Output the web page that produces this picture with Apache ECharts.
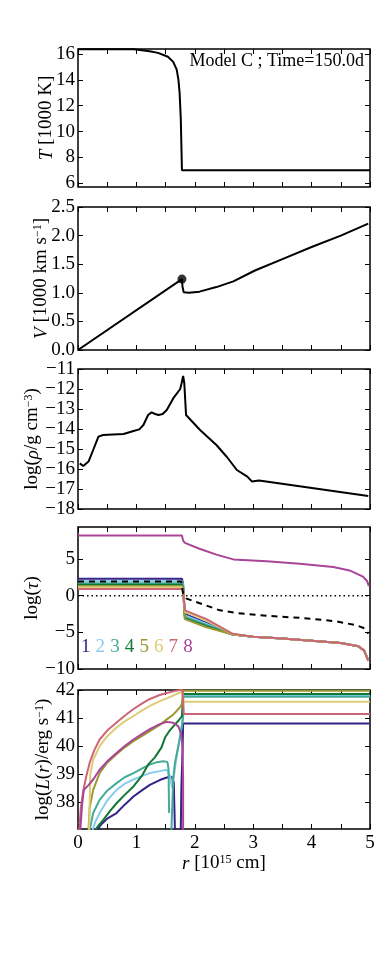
<!DOCTYPE html>
<html>
<head>
<meta charset="utf-8">
<script src="https://cdn.jsdelivr.net/npm/echarts@6.0.0/dist/echarts.min.js"></script>
<style>
  html, body { margin: 0; padding: 0; background: #fff; }
  #main { width: 390px; height: 976px; }
</style>
</head>
<body>
<div id="main"></div>
<script>
// ---- data (r in 1e15 cm) ----
const tempR = [0, 0.95, 1.1, 1.25, 1.37, 1.54, 1.63, 1.69, 1.72, 1.74, 1.76, 1.78, 5.0];
const tempT = [16.38, 16.38, 16.3, 16.2, 16.1, 15.8, 15.4, 14.8, 14.0, 13.0, 11.0, 7.0, 7.0];

const velR = [0, 1.78, 1.79, 1.81, 1.9, 2.08, 2.37, 2.66, 3.03, 3.5, 4.0, 4.5, 4.97];
const velV = [0, 1.24, 1.1, 1.01, 1.0, 1.02, 1.1, 1.2, 1.39, 1.59, 1.8, 2.0, 2.21];
const shockR = [1.78];
const shockV = [1.24];

const rhoR = [0.03, 0.09, 0.18, 0.26, 0.35, 0.43, 0.6, 0.78, 0.95, 1.05, 1.12, 1.2, 1.26, 1.32, 1.38, 1.45,
  1.52, 1.63, 1.75, 1.775, 1.8, 1.82, 1.85, 2.09, 2.37, 2.55, 2.72, 2.9, 2.98, 3.1, 4.97];
const rhoLog = [-15.72, -15.85, -15.63, -15.05, -14.38, -14.3, -14.27, -14.25, -14.1, -14.02, -13.8, -13.3,
  -13.17, -13.25, -13.3, -13.25, -13.05, -12.47, -12.0, -11.7, -11.35, -11.7, -13.3, -14.05, -14.8, -15.4,
  -16.05, -16.38, -16.63, -16.57, -17.35];

// optical depth, bands 1-7 share the radius grid
const tauR = [0, 1.78, 1.8, 1.83, 2.2, 2.65, 3.0, 3.5, 4.0, 4.5, 4.8, 4.9, 4.97];
const tau1 = [2.3, 2.3, 1.6, -2.5, -3.7, -5.3, -5.6, -5.85, -6.15, -6.45, -6.9, -7.5, -8.8];
const tau2 = [2.0, 2.0, 1.4, -2.7, -3.85, -5.3, -5.6, -5.85, -6.15, -6.45, -6.9, -7.5, -8.8];
const tau3 = [1.7, 1.7, 1.2, -2.9, -4.0, -5.3, -5.6, -5.85, -6.15, -6.45, -6.9, -7.5, -8.8];
const tau4 = [1.5, 1.5, 1.0, -3.1, -4.15, -5.3, -5.6, -5.85, -6.15, -6.45, -6.9, -7.5, -8.8];
const tau5 = [1.3, 1.3, 0.9, -3.2, -4.3, -5.3, -5.6, -5.85, -6.15, -6.45, -6.9, -7.5, -8.8];
const tau6 = [1.15, 1.15, 0.7, -2.2, -3.4, -5.25, -5.6, -5.85, -6.15, -6.45, -6.9, -7.5, -8.8];
const tau7 = [0.9, 0.9, 0.5, -2.0, -3.2, -5.2, -5.6, -5.85, -6.15, -6.45, -6.9, -7.5, -8.9];
const tau8R = [0, 1.78, 1.8, 1.83, 2.08, 2.37, 2.66, 3.23, 3.8, 4.37, 4.65, 4.88, 4.95, 4.98];
const tau8 = [8.2, 8.2, 7.5, 7.2, 6.4, 5.6, 4.95, 4.7, 4.35, 3.9, 3.45, 2.6, 2.0, 1.3];
const tauMeanR = [0, 1.77, 1.8, 1.86, 2.43, 2.71, 3.28, 3.86, 4.43, 4.77, 4.92, 4.97];
const tauMean = [1.95, 1.95, 0.3, -0.4, -2.0, -2.36, -2.77, -3.05, -3.5, -4.05, -4.5, -5.2];
const tauZeroR = [0, 5];
const tauZero = [0, 0];

// luminosity per band (null = gap)
const lumR1 = [0.33, 0.4, 0.5, 0.66, 0.8, 0.95, 1.1, 1.23, 1.4, 1.52, 1.6, 1.64, 1.66, 1.7, 1.76, 1.77, 1.79, 1.8, 5.0];
const lum1 = [37.0, 37.2, 37.4, 37.6, 37.9, 38.19, 38.42, 38.61, 38.78, 38.87, 38.9, 38.7, 37.0, null, 37.0, 38.5, 39.8, 40.8, 40.8];
const lumR2 = [0.25, 0.3, 0.37, 0.5, 0.66, 0.8, 0.95, 1.1, 1.23, 1.4, 1.52, 1.58, 1.61, 1.64, 1.7, 1.76, 1.8, 1.8, 5.0];
const lum2 = [37.0, 37.3, 37.6, 38.05, 38.43, 38.65, 38.8, 38.93, 39.03, 39.1, 39.15, 38.9, 38.5, 38.9, 39.8, 40.5, 41.0, 41.8, 41.8];
const lumR3 = [0.2, 0.23, 0.26, 0.37, 0.5, 0.66, 0.8, 0.95, 1.1, 1.23, 1.35, 1.46, 1.53, 1.55, 1.56, 1.58,
  1.6, 1.63, 1.66, 1.72, 1.78, 1.8, 1.8, 5.0];
const lum3 = [37.0, 37.3, 37.6, 38.07, 38.4, 38.67, 38.88, 39.03, 39.2, 39.33, 39.42, 39.45, 39.43, 39.2, 37.6, null,
  37.0, 38.8, 39.4, 40.0, 40.7, 41.1, 41.76, 41.76];
const lumR4 = [0.3, 0.35, 0.43, 0.55, 0.66, 0.8, 0.95, 1.1, 1.2, 1.32, 1.43, 1.49, 1.57, 1.66, 1.72, 1.78, 1.8, 5.0];
const lum4 = [37.0, 37.15, 37.35, 37.68, 37.95, 38.25, 38.55, 38.95, 39.33, 39.6, 39.95, 40.3, 40.55, 40.77, 40.9, 41.07, 41.86, 41.86];
const lumR5 = [0.18, 0.2, 0.26, 0.37, 0.5, 0.66, 0.8, 0.95, 1.1, 1.23, 1.4, 1.52, 1.62, 1.69, 1.75, 1.78, 1.8, 5.0];
const lum5 = [37.0, 37.8, 38.43, 39.03, 39.4, 39.7, 39.95, 40.17, 40.36, 40.53, 40.75, 40.95, 41.1, 41.25, 41.4, 41.5, 41.97, 41.97];
const lumR6 = [0.19, 0.21, 0.26, 0.37, 0.5, 0.66, 0.8, 0.95, 1.1, 1.23, 1.4, 1.52, 1.65, 1.78, 1.8, 1.81, 5.0];
const lum6 = [37.0, 39.0, 39.5, 39.99, 40.35, 40.66, 40.88, 41.07, 41.27, 41.43, 41.6, 41.7, 41.82, 41.94, 41.7, 41.58, 41.58];
const lumR7 = [0.02, 0.05, 0.09, 0.14, 0.2, 0.28, 0.37, 0.5, 0.66, 0.8, 0.95, 1.1, 1.23, 1.4, 1.52, 1.65, 1.75, 1.79, 1.8, 1.81, 5.0];
const lum7 = [37.0, 37.8, 38.4, 38.9, 39.4, 39.85, 40.23, 40.55, 40.84, 41.08, 41.32, 41.52, 41.68, 41.82, 41.89, 41.96, 42.0, 42.0, 41.6, 41.14, 41.14];
const lumR8 = [0.04, 0.07, 0.1, 0.18, 0.26, 0.37, 0.5, 0.66, 0.8, 0.95, 1.1, 1.23, 1.4, 1.52, 1.63, 1.72, 1.77, 1.79, 1.8, 1.8];
const lum8 = [37.0, 37.9, 38.43, 38.6, 38.8, 39.15, 39.45, 39.75, 40.0, 40.23, 40.43, 40.6, 40.78, 40.86, 40.83, 40.7, 40.4, 39.9, 38.8, 36.0];

const bandNames = ['1', '2', '3', '4', '5', '6', '7', '8'];
const bandColors = ['#332288', '#88CCEE', '#44AA99', '#117733', '#999933', '#DDCC77', '#CC6677', '#AA4499'];

const xTicks = [0, 1, 2, 3, 4, 5];
const tTicks = [6, 8, 10, 12, 14, 16];
const tauTicks = [-10, -5, 0, 5];
const lumTicks = [38, 39, 40, 41, 42];

// ---- layout ----
const FONT = 'Liberation Serif';
const FS = 19;
const panels = [
  { top: 49, height: 138, min: 5.7, max: 16.4, ticks: tTicks, fmt: v => String(v), nameGap: 22 },
  { top: 207, height: 143, min: 0, max: 2.5, interval: 0.5, fmt: v => v.toFixed(1), nameGap: 27 },
  { top: 369, height: 140, min: -18, max: -11, interval: 1, fmt: v => String(v), nameGap: 36 },
  { top: 527, height: 142, min: -10, max: 9.37, ticks: tauTicks, fmt: v => String(v), nameGap: 36 },
  { top: 690, height: 139, min: 37.03, max: 42, ticks: lumTicks, fmt: v => String(v), nameGap: 25 }
];
const yNames = [
  '{i|T} [1000 K]',
  '{i|V} [1000 km s{s|\u22121}]',
  'log({i|\u03C1}/g cm{s|\u22123})',
  'log({i|\u03C4})',
  'log({i|L}({i|r})/erg s{s|\u22121})'
];
const rich = {
  i: { fontFamily: FONT, fontSize: FS, fontStyle: 'italic', color: '#000' },
  s: { fontFamily: FONT, fontSize: 12, verticalAlign: 'top', color: '#000' }
};
const minus = v => String(v).replace('-', '\u2212');

const tick = { inside: true, length: 5, lineStyle: { color: '#000', width: 1 } };

const grid = panels.map(p => ({
  left: 78, right: 20, top: p.top, height: p.height,
  show: true, borderColor: '#000', borderWidth: 1.5, backgroundColor: 'transparent'
}));

const xAxis = [];
const yAxis = [];
panels.forEach((p, i) => {
  const last = i === panels.length - 1;
  ['bottom', 'top'].forEach(pos => {
    xAxis.push({
      type: 'value', gridIndex: i, position: pos, min: 0, max: 5, interval: 0.5,
      axisLine: { show: false, onZero: false },
      axisTick: tick,
      splitLine: { show: false },
      axisLabel: (last && pos === 'bottom')
        ? { customValues: xTicks, fontFamily: FONT, fontSize: FS, color: '#000', margin: 5 }
        : { show: false },
      name: (last && pos === 'bottom') ? '{i|r} [10{s|15} cm]' : '',
      nameLocation: 'middle', nameGap: 25, nameMoveOverlap: false,
      nameTextStyle: { fontFamily: FONT, fontSize: FS, color: '#000', rich: rich }
    });
  });
  ['left', 'right'].forEach(pos => {
    const ax = {
      type: 'value', gridIndex: i, position: pos, min: p.min, max: p.max,
      axisLine: { show: false, onZero: false },
      axisTick: Object.assign({}, tick, p.ticks ? { customValues: p.ticks } : {}),
      splitLine: { show: false },
      axisLabel: pos === 'left'
        ? Object.assign({ fontFamily: FONT, fontSize: FS, color: '#000', margin: 3,
            formatter: v => minus(p.fmt(v)) }, p.ticks ? { customValues: p.ticks } : {})
        : { show: false },
      name: pos === 'left' ? yNames[i] : '',
      nameLocation: 'middle', nameGap: p.nameGap, nameMoveOverlap: false,
      nameTextStyle: { fontFamily: FONT, fontSize: FS, color: '#000', rich: rich }
    };
    if (p.interval) ax.interval = p.interval;
    yAxis.push(ax);
  });
});

const pairs = (r, v) => r.map((x, k) => [x, v[k] === null ? '-' : v[k]]);
const line = (panel, r, v, color, extra) => Object.assign({
  type: 'line', xAxisIndex: panel * 2, yAxisIndex: panel * 2, data: pairs(r, v),
  showSymbol: false, symbol: 'none', clip: true, connectNulls: false,
  lineStyle: { color: color, width: 2 }, itemStyle: { color: color }, silent: true
}, extra || {});

const tauBands = [tau1, tau2, tau3, tau4, tau5, tau6, tau7];
const lumBands = [[lumR1, lum1], [lumR2, lum2], [lumR3, lum3], [lumR4, lum4],
  [lumR5, lum5], [lumR6, lum6], [lumR7, lum7], [lumR8, lum8]];

const series = [
  line(0, tempR, tempT, '#000'),
  line(1, velR, velV, '#000'),
  {
    type: 'scatter', xAxisIndex: 2, yAxisIndex: 2, data: pairs(shockR, shockV),
    symbolSize: 9, itemStyle: { color: '#000' }, silent: true
  },
  line(2, rhoR, rhoLog, '#000'),
  line(3, tauZeroR, tauZero, '#000', { lineStyle: { color: '#000', width: 1.5, type: [1.5, 3] } })
];
tauBands.forEach((vals, k) => series.push(line(3, tauR, vals, bandColors[k], { name: bandNames[k] })));
series.push(line(3, tau8R, tau8, bandColors[7], { name: bandNames[7] }));
series.push(line(3, tauMeanR, tauMean, '#000', { lineStyle: { color: '#000', width: 2, type: [6, 5] } }));
lumBands.forEach((b, k) => series.push(line(4, b[0], b[1], bandColors[k], { name: bandNames[k] })));

// band numbers in the tau panel
const bandRich = {};
bandColors.forEach((c, k) => {
  bandRich['c' + k] = { fill: c, fontFamily: FONT, fontSize: FS, width: 14.6 };
});
const bandText = bandNames.map((n, k) => '{c' + k + '|' + n + '}').join('');

const option = {
  animation: false,
  backgroundColor: '#fff',
  grid: grid,
  xAxis: xAxis,
  yAxis: yAxis,
  series: series,
  graphic: [
    {
      type: 'text', right: 26, top: 52,
      style: { text: 'Model C ; Time=150.0d', fontFamily: FONT, fontSize: 18, fill: '#000' }
    },
    {
      type: 'text', left: 81, top: 638,
      style: { text: bandText, rich: bandRich, fontFamily: FONT, fontSize: FS }
    }
  ]
};

const myChart = echarts.init(document.getElementById('main'), null, { renderer: 'canvas' });
myChart.setOption(option);
</script>
</body>
</html>
